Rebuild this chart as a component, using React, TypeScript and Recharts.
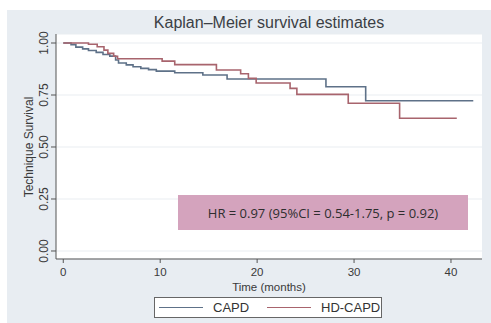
import React from "react";
import { LineChart, Line, XAxis, YAxis, CartesianGrid, Label } from "recharts";

const capdTimes = [0, 0.8, 1.3, 2.0, 2.6, 3.4, 4.1, 4.8, 5.4, 5.7, 6.5, 7.2, 8.0, 8.8, 9.6, 11.5, 14.4, 16.9, 27.1, 31.2, 42.3];
const capdSurv = [1.0, 0.992, 0.98, 0.972, 0.964, 0.955, 0.945, 0.937, 0.918, 0.904, 0.895, 0.886, 0.878, 0.872, 0.865, 0.857, 0.846, 0.827, 0.79, 0.7226, 0.7226];
const hdTimes = [0, 2.6, 3.5, 4.2, 4.6, 5.2, 5.6, 10.2, 11.5, 15.8, 18.3, 19.1, 19.9, 23.4, 24.1, 29.4, 34.7, 40.6];
const hdSurv = [1.0, 0.994, 0.982, 0.966, 0.95, 0.936, 0.924, 0.913, 0.896, 0.87, 0.852, 0.83, 0.808, 0.782, 0.753, 0.71, 0.638, 0.638];

const xTicks = [0, 10, 20, 30, 40];
const yTicks = [0, 0.25, 0.5, 0.75, 1.0];

const seriesNames = ["CAPD", "HD-CAPD"];
const seriesColors = ["#5e7188", "#a8646d"];

const title = "Kaplan\u2013Meier survival estimates";
const yTitle = "Technique Survival";
const xTitle = "Time (months)";
const hrText = "HR = 0.97 (95%CI = 0.54-1.75, p = 0.92)";

const capdData = capdTimes.map((t, i) => ({ t, s: capdSurv[i] }));
const hdData = hdTimes.map((t, i) => ({ t, s: hdSurv[i] }));

const FONT = "'Liberation Sans', Arial, sans-serif";

const YTick = (props: any) => {
  const { y, payload } = props;
  return (
    <text
      transform={`translate(47.5, ${y}) rotate(-90)`}
      textAnchor="middle"
      fontSize={12}
      fill="#3a3a3a"
      fontFamily={FONT}
    >
      {Number(payload.value).toFixed(2)}
    </text>
  );
};

const XTick = (props: any) => {
  const { x, payload } = props;
  return (
    <text x={x} y={276} textAnchor="middle" fontSize={11.5} fill="#3a3a3a" fontFamily={FONT}>
      {payload.value}
    </text>
  );
};

export default function App() {
  return (
    <div style={{ position: "absolute", left: 0, top: 0, width: 491, height: 323, background: "#ffffff", overflow: "hidden" }}>
      <div style={{ position: "absolute", left: 7, top: 10, right: 0, bottom: 0, background: "#e8edf2" }} />
      <div
        style={{
          position: "absolute",
          left: 56,
          width: 426,
          top: 14,
          textAlign: "center",
          fontFamily: FONT,
          fontSize: 16,
          color: "#3b3f45",
        }}
      >
        {title}
      </div>
      <div style={{ position: "absolute", left: 0, top: 0 }}>
        <LineChart width={491} height={323} margin={{ top: 34, right: 9, left: 0, bottom: 34 }}>
          <CartesianGrid vertical={false} horizontal={true} fill="#ffffff" stroke="#e9edf1" strokeWidth={1} />
          <XAxis
            type="number"
            dataKey="t"
            domain={[-0.75, 43.2]}
            ticks={xTicks}
            allowDataOverflow
            height={30}
            tick={<XTick />}
            tickSize={4}
            tickLine={{ stroke: "#555" }}
            axisLine={{ stroke: "#555" }}
          >
            <Label
              content={() => (
                <text x={269} y={290.5} textAnchor="middle" fontSize={11.5} fill="#3a3a3a" fontFamily={FONT}>
                  {xTitle}
                </text>
              )}
            />
          </XAxis>
          <YAxis
            type="number"
            dataKey="s"
            domain={[-0.0385, 1.0433]}
            ticks={yTicks}
            allowDataOverflow
            width={56}
            tick={<YTick />}
            tickSize={5}
            tickLine={{ stroke: "#555" }}
            axisLine={{ stroke: "#555" }}
          >
            <Label
              content={() => (
                <text
                  transform={`translate(32.5, 147) rotate(-90)`}
                  textAnchor="middle"
                  fontSize={12}
                  fill="#3a3a3a"
                  fontFamily={FONT}
                >
                  {yTitle}
                </text>
              )}
            />
          </YAxis>
          <Line
            data={capdData}
            dataKey="s"
            type="stepAfter"
            stroke={seriesColors[0]}
            strokeWidth={1.6}
            dot={false}
            isAnimationActive={false}
            name={seriesNames[0]}
          />
          <Line
            data={hdData}
            dataKey="s"
            type="stepAfter"
            stroke={seriesColors[1]}
            strokeWidth={1.6}
            dot={false}
            isAnimationActive={false}
            name={seriesNames[1]}
          />
        </LineChart>
      </div>
      <div
        style={{
          position: "absolute",
          left: 178,
          top: 195,
          width: 290,
          height: 35,
          background: "#d4a3bd",
          display: "flex",
          alignItems: "center",
          justifyContent: "center",
          fontFamily: "'Open Sans', sans-serif",
          fontSize: 13,
          color: "#2e2e2e",
        }}
      >
        {hrText}
      </div>
      <div
        style={{
          position: "absolute",
          left: 154,
          top: 297,
          width: 226,
          height: 19,
          background: "#ffffff",
          border: "1px solid #666",
          fontFamily: FONT,
          fontSize: 13,
          color: "#333",
        }}
      >
        {seriesNames.map((n, i) => (
          <div key={n} style={{ position: "absolute", left: i === 0 ? 4 : 112, top: 0, height: 19, display: "flex", alignItems: "center" }}>
            <div style={{ width: 44, height: 0, borderTop: `1.5px solid ${seriesColors[i]}` }} />
            <span style={{ marginLeft: 10 }}>{n}</span>
          </div>
        ))}
      </div>
    </div>
  );
}
